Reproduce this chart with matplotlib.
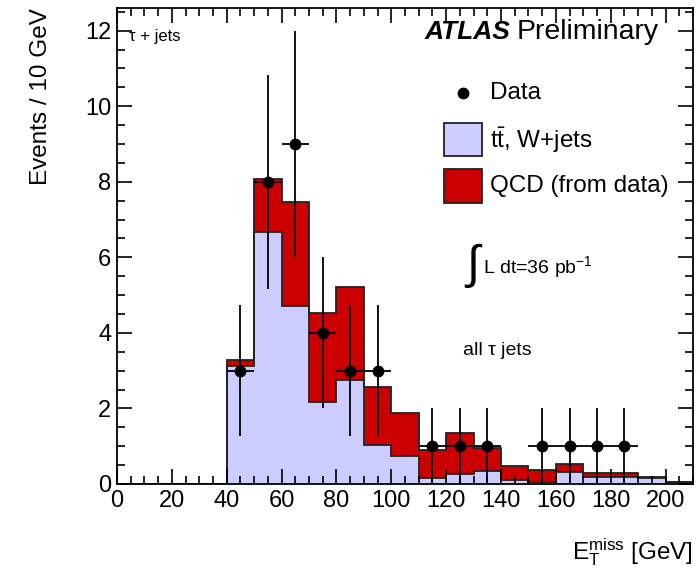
import numpy as np
import matplotlib.pyplot as plt
from matplotlib.patches import Rectangle
from matplotlib.lines import Line2D
from matplotlib.ticker import MultipleLocator

plt.rcParams['font.family'] = ['Liberation Sans', 'DejaVu Sans']
plt.rcParams['mathtext.fontset'] = 'custom'
plt.rcParams['mathtext.rm'] = 'Liberation Sans'
plt.rcParams['mathtext.it'] = 'Liberation Sans:italic'

# histogram bins (GeV)
bin_edges = [0, 10, 20, 30, 40, 50, 60, 70, 80, 90, 100, 110, 120, 130, 140,
             150, 160, 170, 180, 190, 200, 210]
# tt + W+jets expectation per bin
ttw = [0, 0, 0, 0, 3.13, 6.66, 4.71, 2.17, 2.75, 1.03, 0.74, 0.15, 0.26, 0.35,
       0.11, 0.06, 0.33, 0.19, 0.19, 0.15, 0.06]
# QCD (from data) per bin, stacked on top
qcd = [0, 0, 0, 0, 0.15, 1.41, 2.76, 2.35, 2.47, 1.54, 1.15, 0.75, 1.08, 0.59,
       0.37, 0.31, 0.20, 0.09, 0.09, 0.03, 0.0]
# data points
data_x = [45, 55, 65, 75, 85, 95, 115, 125, 135, 155, 165, 175, 185]
data_y = [3, 8, 9, 4, 3, 3, 1, 1, 1, 1, 1, 1, 1]

light = '#ccccff'
red = '#cc0000'

ttw = np.array(ttw)
total = ttw + np.array(qcd)

fig = plt.figure(figsize=(6.99, 5.68), dpi=100)
ax = fig.add_axes([0.1674, 0.1479, 0.8240, 0.8381])

ax.stairs(total, bin_edges, fill=True, color=red, linewidth=0)
ax.stairs(ttw, bin_edges, fill=True, color=light, linewidth=0)
ax.stairs(total, bin_edges, color='#222222', linewidth=1.3)
ax.stairs(ttw, bin_edges, color='#222222', linewidth=1.3)

yerr = np.sqrt(data_y)
ax.errorbar(data_x, data_y, xerr=5, yerr=yerr, fmt='o', color='black',
            markersize=7.5, elinewidth=1.3, capsize=0, zorder=5)

ax.set_xlim(0, 210)
ax.set_ylim(0, 12.6)
ax.xaxis.set_major_locator(MultipleLocator(20))
ax.xaxis.set_minor_locator(MultipleLocator(5))
ax.yaxis.set_major_locator(MultipleLocator(2))
ax.yaxis.set_minor_locator(MultipleLocator(0.5))
ax.tick_params(which='both', direction='in', top=True, right=True,
               labelsize=17, width=1.2, pad=4)
ax.tick_params(which='major', length=11)
ax.tick_params(which='minor', length=6)
for s in ax.spines.values():
    s.set_linewidth(1.3)

ax.set_ylabel('Events / 10 GeV', fontsize=17.5, loc='top', labelpad=24)
ax.set_xlabel(r'$\mathregular{E_T^{miss}}$ [GeV]', fontsize=17.5,
              loc='right', labelpad=18)

ax.text(0.02, 0.955, '\u03c4 + jets', transform=ax.transAxes, fontsize=12,
        va='top')
ax.text(0.534, 0.935, 'ATLAS', transform=ax.transAxes, fontsize=19,
        fontweight='bold', fontstyle='italic')
ax.text(0.694, 0.935, 'Preliminary', transform=ax.transAxes, fontsize=20.5)

# legend drawn by hand
ax.add_line(Line2D([0.6], [0.822], transform=ax.transAxes, marker='o',
                   color='black', markersize=7.5))
ax.text(0.647, 0.822, 'Data', transform=ax.transAxes, fontsize=17.5,
        va='center')
ax.add_patch(Rectangle((0.568, 0.688), 0.066, 0.07, transform=ax.transAxes,
                       facecolor=light, edgecolor='#222222', linewidth=1.3))
ax.text(0.647, 0.723, r't$\bar{\mathregular{t}}$, W+jets',
        transform=ax.transAxes, fontsize=17.5, va='center')
ax.add_patch(Rectangle((0.568, 0.591), 0.066, 0.07, transform=ax.transAxes,
                       facecolor=red, edgecolor='#222222', linewidth=1.3))
ax.text(0.647, 0.627, 'QCD (from data)', transform=ax.transAxes, fontsize=17.5,
        va='center')

ax.text(0.603, 0.46, r'$\int$', transform=ax.transAxes, fontsize=34,
        va='center')
ax.text(0.635, 0.455, r'L dt=36 pb$^{\mathregular{-1}}$',
        transform=ax.transAxes, fontsize=14, va='center')
ax.text(0.6, 0.28, 'all \u03c4 jets', transform=ax.transAxes, fontsize=14,
        va='center')

plt.savefig('out.png', dpi=100)
